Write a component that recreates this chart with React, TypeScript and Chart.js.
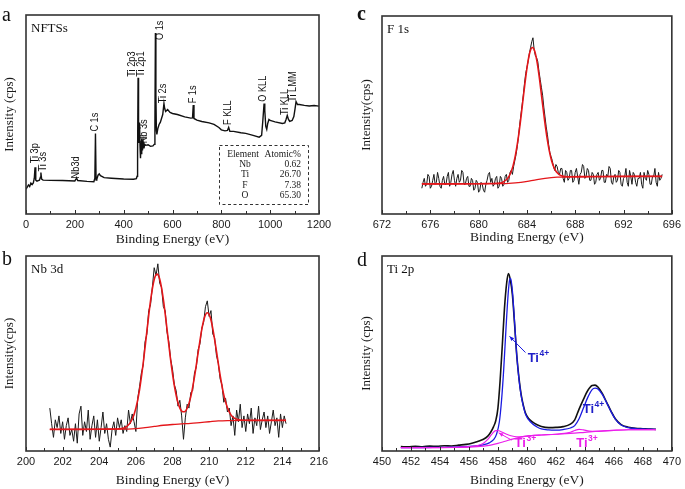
import React, { useEffect, useRef } from 'react';
import { Chart, registerables } from 'chart.js';

Chart.register(...registerables);

const SANS = '"Liberation Sans", Arial, Helvetica, sans-serif';
const SERIF = '"Liberation Serif", "Times New Roman", Times, serif';

// ---------------- Panel a : survey spectrum ----------------
const SURVEY_EV = [0, 5, 10, 15, 20, 25, 30, 34, 37, 40, 45, 50, 55, 59, 61, 64, 70, 100, 150, 200, 205, 208, 212, 250, 278, 282, 284.5, 287, 290, 295, 300, 305, 320, 350, 400, 440, 452, 455, 457, 459, 461, 463, 465, 467, 469, 471, 473, 475, 477, 480, 483, 486, 490, 500, 510, 520, 525, 528, 530, 532, 534, 536, 540, 545, 550, 555, 560, 565, 568, 572, 580, 590, 600, 620, 650, 675, 682, 685, 688, 700, 720, 750, 770, 790, 800, 815, 825, 830, 835, 850, 880, 900, 930, 955, 965, 970, 975, 978, 982, 986, 990, 995, 1000, 1020, 1050, 1060, 1065, 1070, 1075, 1080, 1090, 1097, 1102, 1106, 1112, 1120, 1140, 1160, 1180, 1200];
const SURVEY_CPS = [12.5, 13.5, 14.6, 13.8, 15.5, 14.8, 15.6, 18, 23.5, 17, 16.5, 16.8, 17, 18.5, 20.8, 17.5, 17, 16.9, 16.8, 16.6, 17.6, 17.8, 16.8, 16.4, 16.2, 18, 40.5, 17, 17.5, 19.5, 20.2, 19.3, 18.3, 18, 17.6, 17.5, 17.8, 19, 30, 68.5, 40, 36, 46, 34, 28, 36, 30, 38, 32, 36, 33, 35, 34.5, 34.8, 34, 34.2, 35, 45, 91, 60, 42, 40, 43, 45, 46, 48, 50, 55.5, 53, 51.5, 52.5, 51, 50.5, 50, 48.8, 48.2, 48.3, 54.8, 48, 47.2, 46.5, 45.8, 45, 43.5, 42.3, 41.8, 42, 43.5, 41.5, 41.5, 40.8, 40.5, 39.5, 38.6, 39.5, 47, 55.5, 52, 44, 42.5, 45.5, 47.5, 47, 46.3, 45.5, 45.8, 47.5, 49.5, 47.5, 46.5, 47, 49, 53, 56.5, 55, 55, 54.6, 54.3, 54.5, 54.2];

const PEAK_LABELS = ['Ti 3p', 'Ti 3s', 'Nb3d', 'C 1s', 'Ti 2p3', 'Ti 2p1', 'Nb 3s', 'O 1s', 'Ti 2s', 'F 1s', 'F KLL', 'O KLL', 'Ti KLL', 'Ti LMM'];
const PEAK_LABEL_EV = [37, 68, 205, 283, 435, 471, 483, 549, 562, 685, 826, 968, 1061, 1093];
const PEAK_LABEL_BASE = [25.5, 21.3, 17.9, 41.4, 69, 69, 35.5, 87.4, 55.6, 55.6, 44.7, 56.4, 49.7, 56.4];

const TABLE_HEAD = ['Element', 'Atomic%'];
const TABLE_ELEMENTS = ['Nb', 'Ti', 'F', 'O'];
const TABLE_ATOMIC = ['0.62', '26.70', '7.38', '65.30'];

// ---------------- Panel b : Nb 3d ----------------
const NB_START = 201.3;
const NB_STEP = 0.1;
const NB_RAW = [
  22, 14, 7, 16, 12, 18, 9, 15, 6, 13,
  17, 8, 11, 5, 14, 4, 19, 23, 8, 15,
  10, 21, 6, 13, 18, 7, 16, 5, 12, 20,
  9, 14, 6, 2, 11, 15, 8, 17, 12, 16,
  9, 13, 10, 21, 14, 19, 15, 10, 27, 33,
  40, 44, 56, 60, 72, 75, 84, 94, 90, 96,
  86, 84, 74, 72, 61, 56, 47, 42, 34, 31,
  23, 26, 18, 6, 17, 24, 22, 30, 31, 40,
  43, 52, 55, 63, 66, 74, 77, 69, 72, 60,
  58, 49, 45, 37, 34, 25, 27, 20, 22, 13,
  18, 8, 21, 15, 24, 12, 18, 10, 19, 14,
  22, 9, 17, 13, 23, 11, 16, 20, 12, 18,
  9, 15, 21, 13, 17, 7, 19, 12, 18, 14,
];
const NB_FIT_EV = [201.3, 203, 204.5, 205, 205.5, 205.8, 206.0, 206.2, 206.4, 206.6, 206.8, 207.0, 207.15, 207.3, 207.5, 207.7, 207.9, 208.1, 208.3, 208.5, 208.65, 208.8, 209.0, 209.2, 209.4, 209.6, 209.75, 209.9, 210.05, 210.2, 210.4, 210.6, 210.8, 211.0, 211.2, 211.4, 211.7, 212.2, 214.2];
const NB_FIT = [11.1, 11.1, 11.2, 11.3, 12.5, 16.3, 21.9, 31.4, 45.0, 61.3, 77.0, 87.9, 90.7, 88.2, 77.8, 62.5, 46.6, 33.5, 24.7, 20.5, 20.1, 21.9, 27.9, 38.0, 50.4, 62.4, 68.6, 70.9, 68.8, 62.8, 51.2, 38.9, 28.8, 22.2, 18.4, 16.7, 15.9, 15.7, 15.7];
const NB_BG_EV = [201.3, 205, 206, 206.5, 207, 207.5, 208, 208.5, 209, 209.5, 210, 210.5, 211, 212, 214.2];
const NB_BG = [11.1, 11.2, 11.5, 12.0, 12.6, 13.2, 13.6, 13.9, 14.2, 14.6, 15.0, 15.4, 15.6, 15.7, 15.7];

// ---------------- Panel c : F 1s ----------------
const F_START = 675.3;
const F_STEP = 0.1;
const F_RAW = [
  13, 16, 18, 14, 15, 20, 19, 13, 14, 17, 20, 15, 16, 21, 18, 14, 13, 17, 19, 15,
  15, 19, 21, 14, 16, 20, 22, 17, 14, 18, 20, 16, 17, 22, 21, 15, 15, 18, 19, 14,
  14, 18, 17, 12, 13, 17, 16, 11, 12, 16, 15, 12, 11, 15, 17, 20, 21, 16, 18, 14,
  15, 18, 19, 13, 14, 19, 18, 14, 15, 19, 20, 16, 17, 21, 22, 20, 24, 27, 30, 34,
  39, 45, 50, 55, 60, 66, 71, 74, 77, 81, 84, 87, 89, 83, 80, 79, 77, 72, 68, 64,
  60, 54, 49, 44, 40, 35, 31, 29, 27, 24, 22, 25, 24, 21, 20, 23, 23, 18, 16, 22,
  21, 17, 18, 22, 22, 16, 17, 21, 23, 19, 15, 20, 21, 25, 24, 18, 19, 23, 22, 17,
  17, 21, 20, 15, 16, 20, 21, 17, 18, 22, 22, 16, 16, 20, 19, 24, 23, 16, 15, 19,
  20, 16, 17, 22, 21, 15, 14, 18, 19, 23, 16, 14, 22, 19, 15, 21, 20, 16, 14, 18,
  18, 21, 15, 13, 21, 18, 17, 22, 20, 15, 15, 19, 19, 23, 16, 14, 21, 17, 18, 20,
];
const F_FIT_EV = [675.3, 678, 680, 681, 681.8, 682.05, 682.45, 682.65, 682.85, 683.05, 683.25, 683.45, 683.65, 683.85, 684.05, 684.25, 684.45, 684.65, 684.85, 685.05, 685.25, 685.45, 685.65, 685.85, 686.05, 686.25, 686.45, 686.85, 687.5, 689, 692, 695.2];
const F_FIT = [15.2, 15.2, 15.3, 15.4, 15.6, 16.2, 18.3, 20.7, 24.3, 29.7, 37.0, 46.0, 56.3, 66.6, 75.6, 81.8, 84.1, 82.2, 76.4, 67.8, 57.8, 47.9, 39.1, 32.0, 26.8, 23.4, 21.2, 19.3, 18.8, 18.9, 19.0, 19.0];
const F_BG_EV = [675.3, 681, 682.5, 683.5, 684.5, 685.5, 686.5, 688, 695.2];
const F_BG = [15.2, 15.3, 15.5, 16.0, 17.0, 18.0, 18.6, 18.8, 19.0];

// ---------------- Panel d : Ti 2p ----------------
const TI_RAW_EV = [451.3, 451.8, 452.3, 452.8, 453.3, 453.8, 454.3, 454.8, 455.3, 455.8, 456.2, 456.6, 457.0, 457.3, 457.5, 457.7, 457.85, 458.0, 458.15, 458.3, 458.45, 458.6, 458.72, 458.85, 459.0, 459.15, 459.3, 459.45, 459.6, 459.75, 459.9, 460.1, 460.4, 460.7, 461.0, 461.5, 462.0, 462.5, 463.0, 463.3, 463.6, 463.9, 464.2, 464.5, 464.7, 464.9, 465.2, 465.5, 465.8, 466.1, 466.5, 467.0, 467.5, 468.0, 468.5, 468.9];
const TI_RAW = [2.3, 2.1, 2.4, 2.2, 2.5, 2.4, 2.7, 2.6, 3.0, 3.4, 4.0, 4.9, 6.0, 7.6, 9.6, 12.5, 15.5, 22, 36, 54, 73, 86, 91, 88, 80, 65, 49, 37.5, 29, 23.5, 19.5, 16.8, 14.8, 13.5, 12.6, 12.0, 12.1, 12.5, 13.8, 16, 21.5, 26.5, 31, 33.6, 33.8, 32.8, 29.5, 25, 20.5, 16.5, 13.5, 12.2, 11.6, 11.4, 11.2, 11.1];
const TI4_EV = [451.3, 453, 455, 456, 456.5, 457, 457.4, 457.7, 457.9, 458.1, 458.25, 458.4, 458.55, 458.7, 458.8, 458.88, 459.0, 459.15, 459.3, 459.45, 459.6, 459.75, 459.9, 460.1, 460.4, 460.7, 461.0, 461.5, 462.0, 462.5, 463.0, 463.3, 463.6, 463.9, 464.2, 464.5, 464.7, 464.9, 465.2, 465.5, 465.8, 466.1, 466.5, 467.0, 467.5, 468.0, 468.9];
const TI4 = [1.7, 1.8, 2.0, 2.3, 2.6, 3.2, 4.2, 5.8, 8.5, 15, 26, 42, 62, 80, 87.5, 88.5, 82, 66, 49, 37, 28.5, 23, 19, 16.2, 13.8, 12.3, 11.3, 10.8, 10.7, 11.0, 11.8, 13, 16.5, 22, 27.5, 31.5, 32.2, 31.8, 29, 24.8, 20.3, 16.3, 13.3, 12.0, 11.5, 11.3, 11.1];
const TI3_EV = [451.3, 455, 456, 456.6, 457.0, 457.3, 457.6, 457.85, 458.05, 458.3, 458.6, 458.9, 459.3, 459.7, 460.2, 461, 462, 462.6, 463.0, 463.3, 463.6, 463.9, 464.3, 464.8, 465.3, 466, 467, 468.9];
const TI3 = [1.7, 1.9, 2.2, 2.8, 4.0, 6.0, 8.8, 10.5, 10.4, 9.6, 8.6, 7.8, 7.3, 7.4, 7.8, 8.2, 8.6, 9.0, 9.6, 10.5, 11.1, 10.8, 10.2, 10.1, 10.3, 10.6, 10.9, 11.0];
const TI_BG_EV = [451.3, 455, 456, 457, 457.5, 458, 458.5, 459, 459.5, 460, 461, 462, 463, 464, 465, 466, 467, 468.9];
const TI_BG = [1.7, 1.8, 2.0, 2.5, 3.0, 3.9, 5.0, 6.1, 7.0, 7.6, 8.2, 8.6, 9.0, 9.6, 10.2, 10.6, 10.9, 11.0];

const TI_LABEL_TEXT = ['Ti', 'Ti', 'Ti', 'Ti'];
const TI_LABEL_SUP = ['4+', '4+', '3+', '3+'];
const TI_LABEL_EV = [460.05, 463.85, 459.15, 463.4];
const TI_LABEL_Y = [45.6, 19.5, 2.0, 2.0];

// ---------------- helpers ----------------
const xy = (xs: number[], ys: number[]) => xs.map((x, i) => ({ x, y: ys[i] }));
const sampled = (start: number, step: number, ys: number[]) =>
  ys.map((y, i) => ({ x: Math.round((start + i * step) * 100) / 100, y }));

function series(data: any[], color: string, width: number, order: number, smooth = false) {
  return {
    data,
    borderColor: color,
    backgroundColor: color,
    borderWidth: width,
    pointRadius: 0,
    pointHoverRadius: 0,
    showLine: true,
    fill: false,
    order,
    tension: smooth ? 0.4 : 0,
    cubicInterpolationMode: smooth ? 'monotone' : 'default',
  };
}

function arrow(ctx: CanvasRenderingContext2D, x1: number, y1: number, x2: number, y2: number, color: string) {
  ctx.save();
  ctx.strokeStyle = color;
  ctx.fillStyle = color;
  ctx.lineWidth = 1;
  ctx.beginPath();
  ctx.moveTo(x1, y1);
  ctx.lineTo(x2, y2);
  ctx.stroke();
  const a = Math.atan2(y2 - y1, x2 - x1);
  const L = 5;
  ctx.beginPath();
  ctx.moveTo(x2, y2);
  ctx.lineTo(x2 - L * Math.cos(a - 0.4), y2 - L * Math.sin(a - 0.4));
  ctx.lineTo(x2 - L * Math.cos(a + 0.4), y2 - L * Math.sin(a + 0.4));
  ctx.closePath();
  ctx.fill();
  ctx.restore();
}

function decorPlugin(o: any) {
  return {
    id: 'decor_' + o.letter,
    afterDraw(chart: any) {
      const { ctx, chartArea: ca } = chart;
      const xs = chart.scales.x;
      ctx.save();
      ctx.strokeStyle = '#2b2b2b';
      ctx.lineWidth = 1;
      const n = Math.round((o.xMax - o.xMin) / o.xMinor);
      for (let i = 0; i <= n; i++) {
        const v = o.xMin + i * o.xMinor;
        const px = Math.round(xs.getPixelForValue(v)) + 0.5;
        const r = (v - o.xMin) / o.xStep;
        const major = Math.abs(r - Math.round(r)) < 1e-6;
        const len = major ? 4 : 3;
        ctx.beginPath();
        ctx.moveTo(px, ca.bottom);
        ctx.lineTo(px, ca.bottom - len);
        ctx.stroke();
      }
      ctx.lineWidth = 1.6;
      ctx.strokeStyle = '#333';
      ctx.strokeRect(ca.left, ca.top, ca.right - ca.left, ca.bottom - ca.top);

      ctx.fillStyle = '#111';
      ctx.textAlign = 'left';
      ctx.textBaseline = 'alphabetic';
      ctx.font = `${o.letterBold ? 'bold ' : ''}20px ${SERIF}`;
      ctx.fillText(o.letter, o.letterX, o.letterY);
      ctx.font = `13px ${SERIF}`;
      ctx.fillText(o.title, ca.left + 5, ca.top + 17);
      if (o.extra) o.extra(chart, ctx);
      ctx.restore();
    },
  };
}

function makeConfig(o: any) {
  return {
    type: 'scatter',
    data: { datasets: o.datasets },
    options: {
      animation: false,
      responsive: false,
      maintainAspectRatio: false,
      events: [],
      layout: { padding: { left: o.padLeft, right: o.padRight, top: o.padTop, bottom: 0 } },
      plugins: { legend: { display: false }, tooltip: { enabled: false } },
      scales: {
        x: {
          type: 'linear',
          min: o.xMin,
          max: o.xMax,
          afterFit: (s: any) => { s.height = o.xHeight; },
          grid: { display: false, drawTicks: false },
          border: { display: false },
          ticks: {
            stepSize: o.xStep,
            autoSkip: false,
            maxRotation: 0,
            padding: 4,
            color: '#1a1a1a',
            font: { family: SANS, size: 11 },
            callback: (v: any) => String(v),
          },
          title: {
            display: true,
            text: 'Binding Energy (eV)',
            color: '#1a1a1a',
            font: { family: SERIF, size: 13.5 },
            padding: { top: 0, bottom: o.xTitlePad },
          },
        },
        y: {
          type: 'linear',
          min: 0,
          max: 100,
          afterFit: (s: any) => { s.width = o.yWidth; },
          grid: { display: false, drawTicks: false },
          border: { display: false },
          ticks: { display: false },
          title: {
            display: true,
            text: o.yTitle,
            color: '#1a1a1a',
            font: { family: SERIF, size: 13 },
            padding: { top: 2, bottom: 0 },
          },
        },
      },
    },
    plugins: [decorPlugin(o)],
  };
}

const RED = 'rgb(228,22,26)';

function configA() {
  return makeConfig({
    datasets: [series(xy(SURVEY_EV, SURVEY_CPS), '#111', 1.4, 0)],
    xMin: 0, xMax: 1200, xStep: 200, xMinor: 100,
    padLeft: 0, padRight: 21, padTop: 15, yWidth: 26, xHeight: 36, xTitlePad: 2,
    yTitle: 'Intensity (cps)', letter: 'a', letterX: 2, letterY: 21, letterBold: false, title: 'NFTSs',
    extra: (chart: any, ctx: CanvasRenderingContext2D) => {
      const { x, y } = chart.scales;
      const ca = chart.chartArea;
      ctx.fillStyle = '#111';
      ctx.font = `11.5px ${SANS}`;
      PEAK_LABELS.forEach((t, i) => {
        const px = x.getPixelForValue(PEAK_LABEL_EV[i]);
        const py = y.getPixelForValue(PEAK_LABEL_BASE[i]);
        ctx.save();
        ctx.translate(px, py);
        ctx.rotate(-Math.PI / 2);
        ctx.scale(0.8, 1);
        ctx.textAlign = 'left';
        ctx.textBaseline = 'middle';
        ctx.fillText(t, 0, 0);
        ctx.restore();
      });
      // inset table
      ctx.save();
      ctx.strokeStyle = '#333';
      ctx.lineWidth = 1;
      ctx.setLineDash([3, 2.5]);
      ctx.strokeRect(ca.left + 193.5, ca.top + 130.5, 89, 59);
      ctx.setLineDash([]);
      ctx.font = `9.5px ${SERIF}`;
      ctx.fillStyle = '#1a1a1a';
      ctx.textBaseline = 'middle';
      ctx.textAlign = 'center';
      ctx.fillText(TABLE_HEAD[0], ca.left + 217, ca.top + 139);
      ctx.textAlign = 'right';
      ctx.fillText(TABLE_HEAD[1], ca.left + 275, ca.top + 139);
      TABLE_ELEMENTS.forEach((el, i) => {
        const yy = ca.top + 149 + i * 10.6;
        ctx.textAlign = 'center';
        ctx.fillText(el, ca.left + 219, yy);
        ctx.textAlign = 'right';
        ctx.fillText(TABLE_ATOMIC[i], ca.left + 275, yy);
      });
      ctx.restore();
    },
  });
}

function configB() {
  return makeConfig({
    datasets: [
      series(xy(NB_FIT_EV, NB_FIT), RED, 1.6, 0, true),
      series(xy(NB_BG_EV, NB_BG), RED, 1.3, 1, true),
      series(sampled(NB_START, NB_STEP, NB_RAW), '#1a1a1a', 1, 2),
    ],
    xMin: 200, xMax: 216, xStep: 2, xMinor: 1,
    padLeft: 0, padRight: 21, padTop: 11, yWidth: 26, xHeight: 38, xTitlePad: 0,
    yTitle: 'Intensity(cps)', letter: 'b', letterX: 2, letterY: 20, letterBold: false, title: 'Nb 3d',
  });
}

function configC() {
  return makeConfig({
    datasets: [
      series(xy(F_FIT_EV, F_FIT), RED, 1.6, 0, true),
      series(xy(F_BG_EV, F_BG), RED, 1.3, 1, true),
      series(sampled(F_START, F_STEP, F_RAW), '#1a1a1a', 1, 2),
    ],
    xMin: 672, xMax: 696, xStep: 4, xMinor: 2,
    padLeft: 17, padRight: 11, padTop: 16, yWidth: 25, xHeight: 34, xTitlePad: 2,
    yTitle: 'Intensity(cps)', letter: 'c', letterX: 17, letterY: 20, letterBold: true, title: 'F 1s',
  });
}

function configD() {
  const BLUE = 'rgb(26,26,225)';
  const MAG = 'rgb(235,30,235)';
  return makeConfig({
    datasets: [
      series(xy(TI_BG_EV, TI_BG), MAG, 1.2, 0, true),
      series(xy(TI3_EV, TI3), MAG, 1.2, 1, true),
      series(xy(TI4_EV, TI4), BLUE, 1.3, 2, true),
      series(xy(TI_RAW_EV, TI_RAW), '#111', 1.6, 3, true),
    ],
    xMin: 450, xMax: 470, xStep: 2, xMinor: 1,
    padLeft: 17, padRight: 11, padTop: 11, yWidth: 25, xHeight: 38, xTitlePad: 0,
    yTitle: 'Intensity (cps)', letter: 'd', letterX: 17, letterY: 21, letterBold: false, title: 'Ti 2p',
    extra: (chart: any, ctx: CanvasRenderingContext2D) => {
      const { x, y } = chart.scales;
      const px = (v: number) => x.getPixelForValue(v);
      const py = (v: number) => y.getPixelForValue(v);
      arrow(ctx, px(459.9), py(50.5), px(458.8), py(58.8), BLUE);
      arrow(ctx, px(458.95), py(5.6), px(458.05), py(9.3), MAG);
      TI_LABEL_TEXT.forEach((t, i) => {
        const color = TI_LABEL_SUP[i] === '4+' ? 'rgb(30,30,200)' : MAG;
        const lx = px(TI_LABEL_EV[i]);
        const ly = py(TI_LABEL_Y[i]);
        ctx.fillStyle = color;
        ctx.textAlign = 'left';
        ctx.textBaseline = 'alphabetic';
        ctx.font = `bold 13px ${SANS}`;
        ctx.fillText(t, lx, ly);
        const w = ctx.measureText(t).width;
        ctx.font = `bold 8.5px ${SANS}`;
        ctx.fillText(TI_LABEL_SUP[i], lx + w + 0.5, ly - 6);
      });
    },
  });
}

function ChartPanel(props: { left: number; top: number; width: number; height: number; make: () => any }) {
  const ref = useRef<HTMLCanvasElement>(null);
  useEffect(() => {
    const chart = new Chart(ref.current as HTMLCanvasElement, props.make());
    return () => chart.destroy();
  }, []);
  return (
    <canvas
      ref={ref}
      width={props.width}
      height={props.height}
      style={{ position: 'absolute', left: props.left, top: props.top, width: props.width, height: props.height }}
    />
  );
}

export default function App() {
  useEffect(() => {
    document.body.style.margin = '0';
  }, []);
  return (
    <div style={{ position: 'absolute', left: 0, top: 0, width: 685, height: 489, background: '#fff', overflow: 'hidden' }}>
      <ChartPanel left={0} top={0} width={340} height={250} make={configA} />
      <ChartPanel left={340} top={0} width={345} height={248} make={configC} />
      <ChartPanel left={0} top={245} width={340} height={244} make={configB} />
      <ChartPanel left={340} top={245} width={345} height={244} make={configD} />
    </div>
  );
}
